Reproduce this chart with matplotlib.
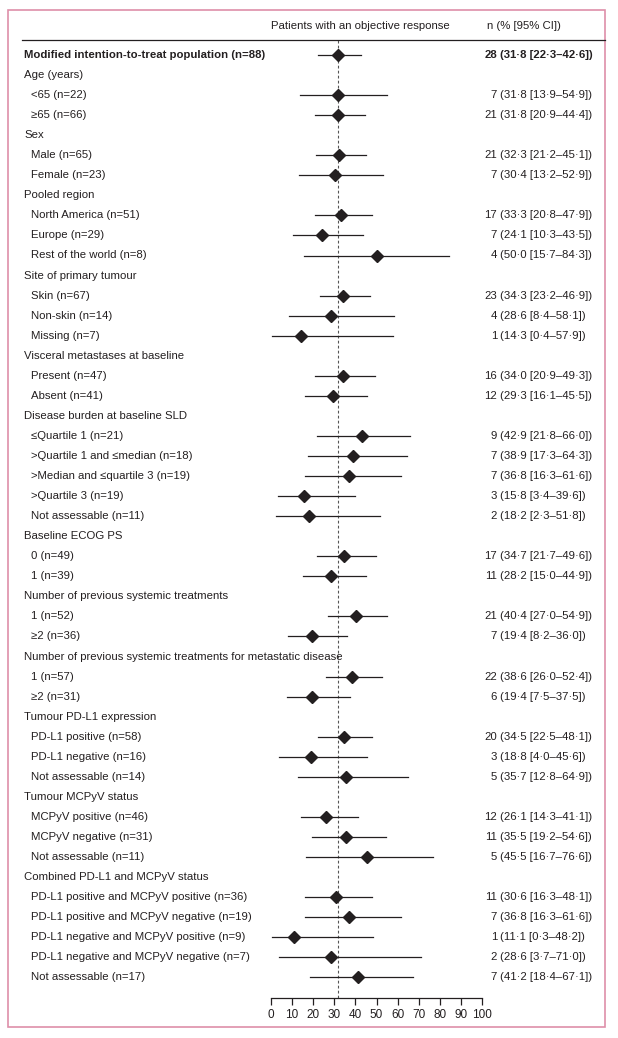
import numpy as np
import matplotlib.pyplot as plt
import matplotlib.transforms as mtransforms
from matplotlib.patches import Rectangle
from matplotlib.lines import Line2D

plt.rcParams['font.family'] = ['Liberation Sans', 'DejaVu Sans']

# rows of the forest plot; header rows have no estimate
labels = [
    "Modified intention-to-treat population (n=88)",
    "Age (years)", "<65 (n=22)", "≥65 (n=66)",
    "Sex", "Male (n=65)", "Female (n=23)",
    "Pooled region", "North America (n=51)", "Europe (n=29)", "Rest of the world (n=8)",
    "Site of primary tumour", "Skin (n=67)", "Non-skin (n=14)", "Missing (n=7)",
    "Visceral metastases at baseline", "Present (n=47)", "Absent (n=41)",
    "Disease burden at baseline SLD", "≤Quartile 1 (n=21)", ">Quartile 1 and ≤median (n=18)",
    ">Median and ≤quartile 3 (n=19)", ">Quartile 3 (n=19)", "Not assessable (n=11)",
    "Baseline ECOG PS", "0 (n=49)", "1 (n=39)",
    "Number of previous systemic treatments", "1 (n=52)", "≥2 (n=36)",
    "Number of previous systemic treatments for metastatic disease", "1 (n=57)", "≥2 (n=31)",
    "Tumour PD-L1 expression", "PD-L1 positive (n=58)", "PD-L1 negative (n=16)", "Not assessable (n=14)",
    "Tumour MCPyV status", "MCPyV positive (n=46)", "MCPyV negative (n=31)", "Not assessable (n=11)",
    "Combined PD-L1 and MCPyV status",
    "PD-L1 positive and MCPyV positive (n=36)", "PD-L1 positive and MCPyV negative (n=19)",
    "PD-L1 negative and MCPyV positive (n=9)", "PD-L1 negative and MCPyV negative (n=7)",
    "Not assessable (n=17)",
]
N = None
responders = [28, N, 7, 21, N, 21, 7, N, 17, 7, 4, N, 23, 4, 1, N, 16, 12, N, 9, 7, 7, 3, 2,
              N, 17, 11, N, 21, 7, N, 22, 6, N, 20, 3, 5, N, 12, 11, 5, N, 11, 7, 1, 2, 7]
pct = [31.8, N, 31.8, 31.8, N, 32.3, 30.4, N, 33.3, 24.1, 50.0, N, 34.3, 28.6, 14.3, N, 34.0, 29.3,
       N, 42.9, 38.9, 36.8, 15.8, 18.2, N, 34.7, 28.2, N, 40.4, 19.4, N, 38.6, 19.4,
       N, 34.5, 18.8, 35.7, N, 26.1, 35.5, 45.5, N, 30.6, 36.8, 11.1, 28.6, 41.2]
ci_low = [22.3, N, 13.9, 20.9, N, 21.2, 13.2, N, 20.8, 10.3, 15.7, N, 23.2, 8.4, 0.4, N, 20.9, 16.1,
          N, 21.8, 17.3, 16.3, 3.4, 2.3, N, 21.7, 15.0, N, 27.0, 8.2, N, 26.0, 7.5,
          N, 22.5, 4.0, 12.8, N, 14.3, 19.2, 16.7, N, 16.3, 16.3, 0.3, 3.7, 18.4]
ci_high = [42.6, N, 54.9, 44.4, N, 45.1, 52.9, N, 47.9, 43.5, 84.3, N, 46.9, 58.1, 57.9, N, 49.3, 45.5,
           N, 66.0, 64.3, 61.6, 39.6, 51.8, N, 49.6, 44.9, N, 54.9, 36.0, N, 52.4, 37.5,
           N, 48.1, 45.6, 64.9, N, 41.1, 54.6, 76.6, N, 48.1, 61.6, 48.2, 71.0, 67.1]
xticks = [0, 10, 20, 30, 40, 50, 60, 70, 80, 90, 100]

W, H = 618, 1038
TXT = '#231f20'
PINK = '#de8fa9'
FS = 8.2

fig = plt.figure(figsize=(W / 100, H / 100), dpi=100)

def fx(px):
    return px / W

def fy(py):
    return 1 - py / H

# plotting axes: top at header rule, bottom at the scale line
row0, step = 55, 20.05
y_top, y_axis = 40, 998
ax = fig.add_axes([fx(271), fy(y_axis), fx(482) - fx(271), fy(y_top) - fy(y_axis)])
nrows = len(labels)
ax.set_ylim((y_axis - row0) / step, (y_top - row0) / step)
ax.set_xlim(0, 100)
for s in ['top', 'left', 'right']:
    ax.spines[s].set_visible(False)
ax.spines['bottom'].set_color(TXT)
ax.spines['bottom'].set_linewidth(0.9)
ax.set_yticks([])
ax.set_xticks(xticks)
ax.tick_params(axis='x', direction='out', length=5, width=0.9, color=TXT,
               labelsize=8.5, labelcolor=TXT, pad=3)
ax.patch.set_alpha(0)

ax.axvline(pct[0], color='#555555', lw=0.8, ls=(0, (2.5, 2)), zorder=1)

for i in range(nrows):
    if pct[i] is None:
        continue
    ax.plot([ci_low[i], ci_high[i]], [i, i], color=TXT, lw=0.9, zorder=2)
    ax.plot(pct[i], i, marker='D', ms=6, color=TXT, zorder=3)

# text columns
tr = mtransforms.blended_transform_factory(fig.transFigure, ax.transData)
for i, lab in enumerate(labels):
    bold = i == 0
    indent = 24 if (bold or pct[i] is None) else 31
    fig.text(fx(indent), i, lab, transform=tr, va='center', ha='left', fontsize=FS,
             color=TXT, fontweight='bold' if bold else 'normal')
    if pct[i] is None:
        continue
    ci = f"({pct[i]:.1f} [{ci_low[i]:.1f}–{ci_high[i]:.1f}])".replace('.', '·')
    fig.text(fx(497), i, str(responders[i]), transform=tr, va='center', ha='right',
             fontsize=FS, color=TXT, fontweight='bold' if bold else 'normal')
    fig.text(fx(500), i, ci, transform=tr, va='center', ha='left',
             fontsize=FS, color=TXT, fontweight='bold' if bold else 'normal')

fig.text(fx(271), fy(26), "Patients with an objective response", va='center', ha='left',
         fontsize=FS, color=TXT)
fig.text(fx(487), fy(26), "n (% [95% CI])", va='center', ha='left', fontsize=FS, color=TXT)
fig.add_artist(Line2D([fx(22), fx(605)], [fy(40), fy(40)], color=TXT, lw=0.9))

fig.add_artist(Rectangle((fx(8), fy(1027)), fx(605) - fx(8), fy(10) - fy(1027),
                         transform=fig.transFigure, fill=False, edgecolor=PINK, lw=1.2))

fig.savefig('out.png', dpi=100, facecolor='white')
